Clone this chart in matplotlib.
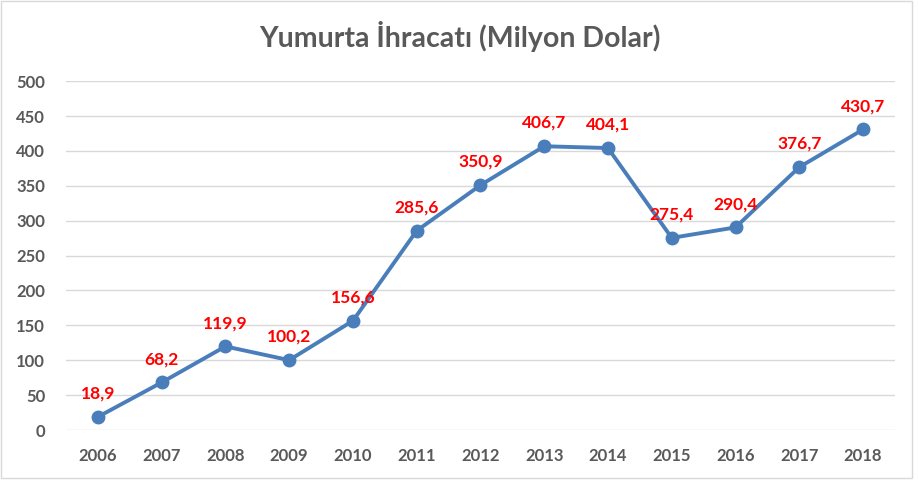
import matplotlib
matplotlib.use("Agg")
import matplotlib.pyplot as plt
from matplotlib.patches import Rectangle

years = ["2006", "2007", "2008", "2009", "2010", "2011", "2012",
         "2013", "2014", "2015", "2016", "2017", "2018"]
values = [18.9, 68.2, 119.9, 100.2, 156.6, 285.6, 350.9,
          406.7, 404.1, 275.4, 290.4, 376.7, 430.7]
yticks = [0, 50, 100, 150, 200, 250, 300, 350, 400, 450, 500]

plt.rcParams["font.family"] = ["Lato", "DejaVu Sans"]

fig = plt.figure(figsize=(9.19, 4.8), dpi=100)
ax = fig.add_axes([0.0718, 0.104, 0.902, 0.727])

x = list(range(len(years)))
ax.plot(x, values, color="#4A7EBB", linewidth=2.8, marker="o",
        markersize=9, zorder=3, solid_capstyle="round")

for xi, v in zip(x, values):
    ax.annotate(f"{v:.1f}".replace(".", ","), (xi, v), xytext=(0, 11),
                textcoords="offset points", ha="center", va="bottom",
                color="#FF0000", fontsize=12.5, fontweight="bold")

ax.set_xlim(-0.5, len(years) - 0.5)
ax.set_ylim(0, 500)
ax.set_xticks(x)
ax.set_xticklabels(years)
ax.set_yticks(yticks)
ax.grid(axis="y", color="#D9D9D9", linewidth=1)
ax.set_axisbelow(True)
for s in ax.spines.values():
    s.set_visible(False)
ax.tick_params(length=0, labelsize=12, labelcolor="#595959")
for lab in ax.get_xticklabels() + ax.get_yticklabels():
    lab.set_fontweight("bold")
ax.tick_params(axis="x", pad=13)
ax.tick_params(axis="y", pad=15)

fig.text(0.5, 0.925, "Yumurta İhracatı (Milyon Dolar)", ha="center",
         va="center", fontsize=20.5, fontweight="bold", color="#595959")

fig.patches.append(Rectangle((0.001, 0.004), 0.991, 0.994, transform=fig.transFigure,
                             fill=False, edgecolor="#D9D9D9", linewidth=1))

fig.savefig("out.png", dpi=100, facecolor="white")
